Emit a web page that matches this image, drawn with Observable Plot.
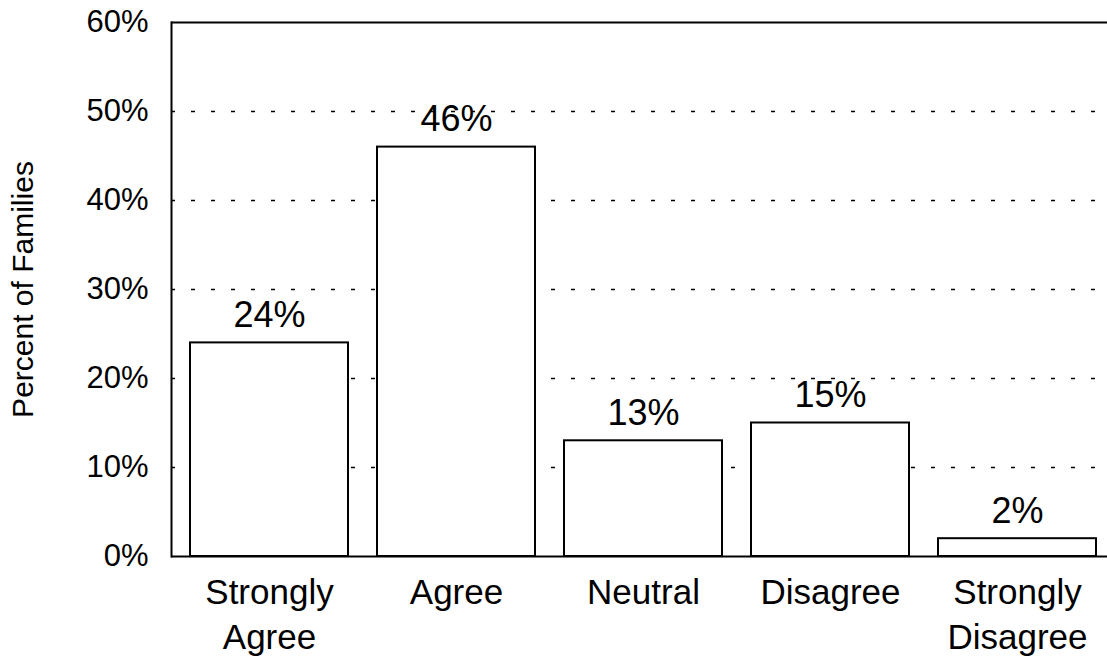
<!DOCTYPE html>
<html>
<head>
<meta charset="utf-8">
<script src="https://cdn.jsdelivr.net/npm/d3@7"></script>
<script src="https://cdn.jsdelivr.net/npm/@observablehq/plot@0.6"></script>
<style>
  html, body { margin: 0; padding: 0; background: white; }
</style>
</head>
<body>
<div id="chart"></div>
<script>
const categories = ["Strongly Agree", "Agree", "Neutral", "Disagree", "Strongly Disagree"];
const values = [24, 46, 13, 15, 2];
const xTickLabels = ["Strongly\nAgree", "Agree", "Neutral", "Disagree", "Strongly\nDisagree"];
const yTicks = [0, 10, 20, 30, 40, 50, 60];
const gridTicks = [10, 20, 30, 40, 50];
const yLabel = "Percent of Families";

const data = categories.map((c, i) => ({category: c, value: values[i]}));

const chart = Plot.plot({
  width: 1107,
  height: 658,
  marginTop: 22,
  marginBottom: 102,
  marginLeft: 171,
  marginRight: 0,
  style: {fontFamily: "'Liberation Sans', Arial, sans-serif", background: "white", color: "black"},
  x: {domain: categories, range: [171, 1115], paddingInner: 0.154, paddingOuter: 0.09},
  y: {domain: [0, 60]},
  marks: [
    Plot.ruleY(gridTicks, {stroke: "black", strokeWidth: 1.6, strokeDasharray: "4,16"}),
    Plot.barY(data, {x: "category", y: "value", fill: "white", stroke: "black", strokeWidth: 2}),
    Plot.text(data, {x: "category", y: "value", text: d => d.value + "%", lineAnchor: "bottom", dy: -16, fontSize: 36, fill: "black"}),
    Plot.ruleY([60], {stroke: "black", strokeWidth: 2}),
    Plot.ruleY([0], {stroke: "black", strokeWidth: 2}),
    Plot.frame({anchor: "left", stroke: "black", strokeWidth: 2}),
    Plot.axisY(yTicks, {tickSize: 0, tickPadding: 23, tickFormat: d => d + "%", fontSize: 31, label: null}),
    Plot.axisX({tickSize: 0, tickPadding: 16, tickFormat: d => xTickLabels[categories.indexOf(d)], fontSize: 35, lineHeight: 1.28, label: null}),
    Plot.text([yLabel], {frameAnchor: "left", rotate: -90, dx: -148, textAnchor: "middle", fontSize: 30, text: d => d, fill: "black"})
  ]
});
document.getElementById("chart").appendChild(chart);
</script>
</body>
</html>
